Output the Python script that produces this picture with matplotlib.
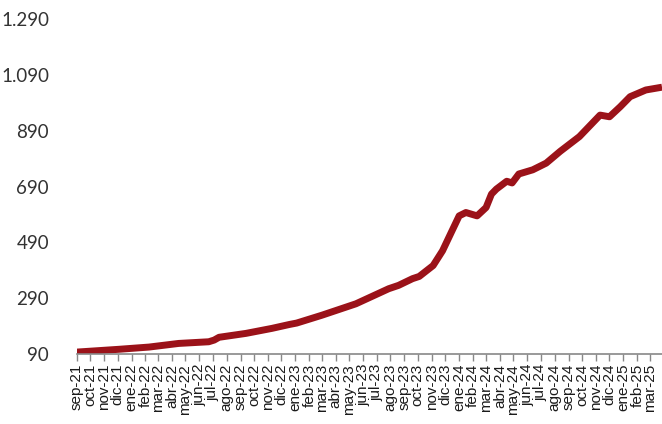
import pandas as pd
import numpy as np
import matplotlib
matplotlib.use("Agg")
import matplotlib.pyplot as plt

# values (approximate)
dates = ["2021-09-01", "2021-12-04", "2022-02-09", "2022-04-16", "2022-06-22",
         "2022-07-04", "2022-07-15", "2022-09-13", "2022-11-10", "2022-12-19",
         "2023-01-04", "2023-03-01", "2023-05-16", "2023-07-28", "2023-08-19",
         "2023-09-19", "2023-10-04", "2023-11-04", "2023-11-25", "2023-12-13",
         "2024-01-01", "2024-01-16", "2024-02-10", "2024-03-01", "2024-03-13",
         "2024-03-24", "2024-04-16", "2024-04-28", "2024-05-13", "2024-06-13",
         "2024-07-13", "2024-08-13", "2024-09-25", "2024-11-10", "2024-12-01",
         "2024-12-25", "2025-01-16", "2025-02-20", "2025-03-28"]
values = [97, 107, 115, 128, 134,
          140, 150, 164, 182, 196,
          201, 229, 270, 324, 336,
          360, 368, 407, 460, 521,
          585, 597, 585, 615, 663,
          681, 709, 703, 735, 750,
          774, 816, 869, 946, 940,
          976, 1012, 1036, 1046]

month_labels = ["sep-21", "oct-21", "nov-21", "dic-21",
                "ene-22", "feb-22", "mar-22", "abr-22", "may-22", "jun-22",
                "jul-22", "ago-22", "sep-22", "oct-22", "nov-22", "dic-22",
                "ene-23", "feb-23", "mar-23", "abr-23", "may-23", "jun-23",
                "jul-23", "ago-23", "sep-23", "oct-23", "nov-23", "dic-23",
                "ene-24", "feb-24", "mar-24", "abr-24", "may-24", "jun-24",
                "jul-24", "ago-24", "sep-24", "oct-24", "nov-24", "dic-24",
                "ene-25", "feb-25", "mar-25"]
y_ticks = [90, 290, 490, 690, 890, 1090, 1290]

x = pd.to_datetime(dates)
month_starts = pd.date_range("2021-09-01", periods=len(month_labels), freq="MS")

fig = plt.figure(figsize=(6.62, 4.24), dpi=100)
ax = fig.add_axes([0.116, 0.165, 0.884, 0.79])

ax.plot(x, values, color="#9b1219", linewidth=5, solid_capstyle="butt",
        solid_joinstyle="round")

ax.set_xlim(pd.Timestamp("2021-09-01"), pd.Timestamp("2025-03-28"))
ax.set_ylim(90, 1290)

ax.set_xticks(month_starts)
ax.set_xticklabels(month_labels, rotation=90, fontsize=11,
                   family="Liberation Sans", color="#1a1a1a")
ax.tick_params(axis="x", direction="out", length=5, width=1, color="#888888", pad=2)

ax.set_yticks(y_ticks)
ax.set_yticklabels([f"{v:,}".replace(",", ".") for v in y_ticks],
                   fontsize=13.5, family="Lato", color="#333333")
ax.tick_params(axis="y", length=0, pad=20)

for s in ["top", "right", "left"]:
    ax.spines[s].set_visible(False)
ax.spines["bottom"].set_color("#888888")
ax.spines["bottom"].set_linewidth(1.2)

fig.savefig("out.png", dpi=100)
